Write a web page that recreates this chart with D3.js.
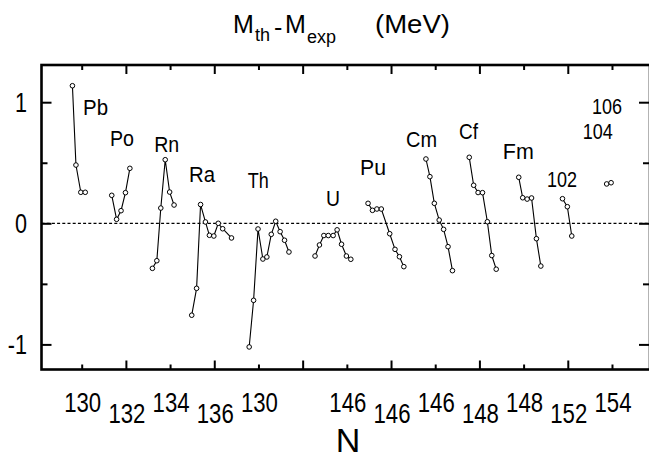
<!DOCTYPE html>
<html><head><meta charset="utf-8">
<script src="https://cdn.jsdelivr.net/npm/d3@7"></script>
<style>html,body{margin:0;padding:0;background:#fff;overflow:hidden}</style>
</head><body><svg id="c" width="649" height="460"></svg>
<script>
// ---- data ----
const tickPos = [0,10,20,30,40,50,60,70,80,90,100,110,120];
const tickLabels = ["130","132","134","136","130","","146","146","146","148","148","152","154"];
const yMajor = [-1,0,1];
const yMinor = [-0.5,0.5];
const yLabels = ["-1","0","1"];

const pbN = [-2.1,-1.3,-0.2,0.8];            const pbV = [1.136,0.481,0.256,0.256];
const poN = [6.8,7.9,8.9,9.9,10.9];           const poV = [0.231,0.033,0.104,0.253,0.454];
const rnN = [16.0,17.0,17.9,18.9,19.9,20.9];  const rnV = [-0.372,-0.309,0.126,0.525,0.258,0.151];
const raN = [24.9,26.0,26.9,28.0,28.9,29.9,30.9,31.9,33.9];
const raV = [-0.759,-0.537,0.155,0.011,-0.099,-0.105,0.0,-0.045,-0.121];
const thN = [37.9,38.9,39.9,41.0,41.9,42.9,43.9,44.9,45.9,46.9];
const thV = [-1.021,-0.636,-0.047,-0.295,-0.278,-0.091,0.017,-0.069,-0.140,-0.237];
const uN  = [52.8,53.8,54.8,55.8,56.9,57.8,58.8,59.9,60.9];
const uV  = [-0.270,-0.179,-0.101,-0.101,-0.101,-0.054,-0.173,-0.270,-0.297];
const puN = [64.8,65.8,66.8,67.8,69.7,70.9,71.9,72.9];
const puV = [0.165,0.107,0.118,0.118,-0.086,-0.215,-0.276,-0.358];
const cmN = [77.9,78.8,79.8,80.9,81.9,82.9,83.9];
const cmV = [0.531,0.385,0.165,0.027,-0.050,-0.193,-0.391];
const cfN = [87.7,88.7,89.7,90.7,91.8,92.8,93.8];
const cfV = [0.545,0.314,0.254,0.253,0.013,-0.266,-0.379];
const fmN = [98.9,99.8,100.8,101.8,102.9,103.9];
const fmV = [0.380,0.211,0.200,0.209,-0.127,-0.353];
const e102N = [108.8,109.9,110.9];            const e102V = [0.203,0.137,-0.105];
const e104N = [118.8,119.8];                  const e104V = [0.325,0.335];

const labelNames = ["Pb","Po","Rn","Ra","Th","U","Pu","Cm","Cf","Fm","102","104","106"];
const labelN     = [0.3,6.4,16.4,24.3,37.6,55.3,63.0,73.4,85.4,95.3,105.3,113.4,115.5];
const labelV     = [0.894,0.638,0.589,0.341,0.292,0.143,0.399,0.630,0.696,0.531,0.300,0.696,0.903];
const labelW     = [25,24,25,26,21,14,26,31,19,31,30,30,30];

// ---- layout ----
const F = {l:41.5, t:65, r:650, b:369.5};
const svg = d3.select("#c");
const x = d3.scaleLinear().domain([0,120]).range([81.7, 81.7+4.419*120]);
const y = d3.scaleLinear().domain([-1,1]).range([344.4,102.2]);
const FONT = "'Liberation Sans', Arial, sans-serif";

// title
const tg = svg.append("g").attr("font-family",FONT).attr("fill","#000");
tg.append("text").attr("x",233).attr("y",33).attr("font-size",25).text("M");
tg.append("text").attr("x",255).attr("y",41).attr("font-size",18).text("th");
tg.append("text").attr("x",274).attr("y",36).attr("font-size",25).text("-");
tg.append("text").attr("x",285).attr("y",33).attr("font-size",25).text("M");
tg.append("text").attr("x",307).attr("y",43).attr("font-size",18).text("exp");
tg.append("text").attr("x",375).attr("y",33).attr("font-size",25)
  .attr("textLength",75).attr("lengthAdjust","spacingAndGlyphs").text("(MeV)");

// zero line
svg.append("line").attr("x1",F.l).attr("x2",F.r).attr("y1",y(0)).attr("y2",y(0))
  .attr("stroke","#000").attr("stroke-width",1.2).attr("stroke-dasharray","3,2.2");

// axes (ticks only)
function styleAxis(g){ g.select(".domain").remove(); g.selectAll("line").attr("stroke","#000").attr("stroke-width",2); g.selectAll("text").remove(); }
const longX = tickPos.filter((d,i)=>i%2===1), shortX = tickPos.filter((d,i)=>i%2===0);
svg.append("g").attr("transform",`translate(0,${F.b})`).call(d3.axisBottom(x).tickValues(longX).tickSize(-9)).call(styleAxis);
svg.append("g").attr("transform",`translate(0,${F.b})`).call(d3.axisBottom(x).tickValues(shortX).tickSize(-5)).call(styleAxis);
svg.append("g").attr("transform",`translate(0,${F.t})`).call(d3.axisTop(x).tickValues(longX).tickSize(-9)).call(styleAxis);
svg.append("g").attr("transform",`translate(0,${F.t})`).call(d3.axisTop(x).tickValues(shortX).tickSize(-5)).call(styleAxis);
svg.append("g").attr("transform",`translate(${F.l},0)`).call(d3.axisLeft(y).tickValues(yMajor).tickSize(-10)).call(styleAxis);
svg.append("g").attr("transform",`translate(${F.l},0)`).call(d3.axisLeft(y).tickValues(yMinor).tickSize(-6)).call(styleAxis);
svg.append("g").attr("transform",`translate(${F.r-1},0)`).call(d3.axisRight(y).tickValues(yMajor).tickSize(-10)).call(styleAxis);
svg.append("g").attr("transform",`translate(${F.r-1},0)`).call(d3.axisRight(y).tickValues(yMinor).tickSize(-6)).call(styleAxis);

// frame
svg.append("rect").attr("x",F.l).attr("y",F.t).attr("width",F.r-F.l).attr("height",F.b-F.t)
  .attr("fill","none").attr("stroke","#000").attr("stroke-width",2.6);

// tick labels
svg.append("g").selectAll("text").data(tickPos).join("text")
  .attr("transform",(d,i)=>`translate(${x(d)+1},${i%2===0?412:423})`)
  .attr("text-anchor","middle").attr("font-family",FONT).attr("font-size",27)
  .attr("textLength",(d,i)=>tickLabels[i]?37:null).attr("lengthAdjust","spacingAndGlyphs")
  .text((d,i)=>tickLabels[i]);
svg.append("g").selectAll("text").data(yMajor).join("text")
  .attr("transform",d=>`translate(27,${y(d)+10}) scale(0.8,1)`)
  .attr("text-anchor","end").attr("font-family",FONT).attr("font-size",27)
  .text((d,i)=>yLabels[i]);

// axis title
svg.append("text").attr("x",348).attr("y",452).attr("text-anchor","middle")
  .attr("font-family",FONT).attr("font-size",34).text("N");

// series
const series = [[pbN,pbV],[poN,poV],[rnN,rnV],[raN,raV],[thN,thV],[uN,uV],[puN,puV],
  [cmN,cmV],[cfN,cfV],[fmN,fmV],[e102N,e102V],[e104N,e104V]]
  .map(([n,v])=>n.map((d,i)=>[d,v[i]]));
const line = d3.line().x(d=>x(d[0])).y(d=>y(d[1]));
const sg = svg.append("g");
sg.selectAll("path").data(series).join("path").attr("d",line)
  .attr("fill","none").attr("stroke","#000").attr("stroke-width",1.1);
sg.selectAll("circle").data(series.flat()).join("circle")
  .attr("cx",d=>x(d[0])).attr("cy",d=>y(d[1])).attr("r",2.3)
  .attr("fill","#fff").attr("stroke","#000").attr("stroke-width",1);

// element labels
svg.append("g").selectAll("text").data(labelNames).join("text")
  .attr("x",(d,i)=>x(labelN[i])).attr("y",(d,i)=>y(labelV[i]))
  .attr("font-family",FONT).attr("font-size",22)
  .attr("textLength",(d,i)=>labelW[i]).attr("lengthAdjust","spacingAndGlyphs")
  .text(d=>d);
</script></body></html>
